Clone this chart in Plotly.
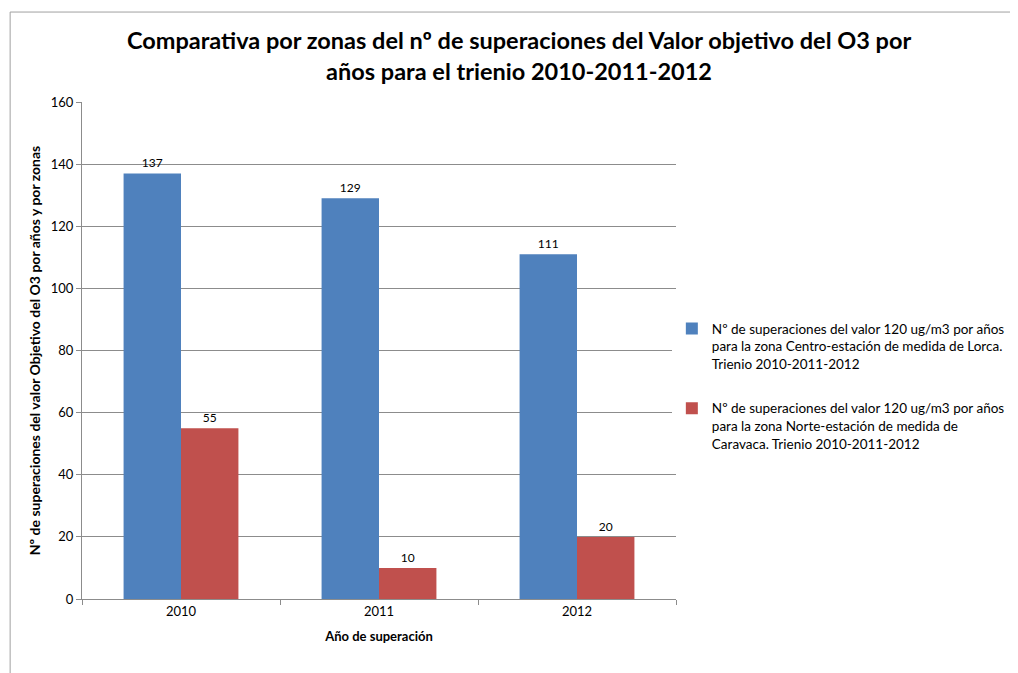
import plotly.graph_objects as go

# Data
years = ["2010", "2011", "2012"]
lorca = [137, 129, 111]
caravaca = [55, 10, 20]

series_names = [
    "Nº de superaciones del valor 120 ug/m3 por años<br>para la zona Centro-estación de medida de Lorca.<br>Trienio 2010-2011-2012",
    "Nº de superaciones del valor 120 ug/m3 por años<br>para la zona Norte-estación de medida de<br>Caravaca. Trienio 2010-2011-2012",
]

BLUE = "#4F81BD"
RED = "#C0504D"
GRID = "#8C8C8C"
FONT = "Lato, 'Liberation Sans', sans-serif"

fig = go.Figure()
for i, (vals, name, color) in enumerate([(lorca, series_names[0], BLUE),
                                         (caravaca, series_names[1], RED)]):
    fig.add_trace(go.Bar(
        x=years, y=vals, name=name, legendgroup=f"g{i}",
        marker=dict(color=color, line=dict(width=0)),
        text=[str(v) for v in vals], textposition="outside",
        textfont=dict(size=12, color="#000000"),
        cliponaxis=False,
    ))

# page body has an 8px margin, so the figure is a bit smaller than the window
fig.update_layout(
    width=1010, height=665,
    barmode="group", bargap=0.42, bargroupgap=0,
    paper_bgcolor="white", plot_bgcolor="white",
    font=dict(family=FONT, size=12, color="#000000"),
    title=dict(
        text="Comparativa por zonas del nº de superaciones del Valor objetivo del O3 por<br>años para el trienio 2010-2011-2012",
        x=0.506, xanchor="center", y=0.938, yanchor="top",
        font=dict(family=FONT, size=23.5, color="#000000", weight="bold"),
    ),
    margin=dict(l=74, r=342, t=94, b=74, autoexpand=False),
    legend=dict(
        x=0.993, y=0.575, xanchor="left", yanchor="top",
        font=dict(size=13.5), tracegroupgap=24, itemsizing="constant",
        itemwidth=30, valign="top", traceorder="grouped",
    ),
    showlegend=True,
)

fig.update_xaxes(
    automargin=False,
    showline=True, linecolor=GRID, linewidth=1,
    ticks="outside", tickson="boundaries", ticklen=5, tickcolor=GRID,
    tickfont=dict(size=13),
    title=dict(text="<b>Año de superación</b>", font=dict(size=13), standoff=14),
)
fig.update_yaxes(
    automargin=False,
    range=[0, 160], dtick=20,
    showgrid=True, gridcolor=GRID, gridwidth=1,
    showline=True, linecolor=GRID, linewidth=1,
    ticks="outside", ticklen=5, tickcolor=GRID,
    tickfont=dict(size=13), zeroline=False,
    title=dict(text="<b>Nº de superaciones del valor Objetivo del O3 por años y por zonas</b>",
               font=dict(size=14), standoff=6),
)

# outer chart border (Excel chart frame)
fig.add_shape(type="rect", xref="paper", yref="paper",
              x0=-0.121, x1=1.8, y0=-0.4, y1=1.181,
              line=dict(color="#A0A0A0", width=1), layer="below")

fig.write_html("out.html")
